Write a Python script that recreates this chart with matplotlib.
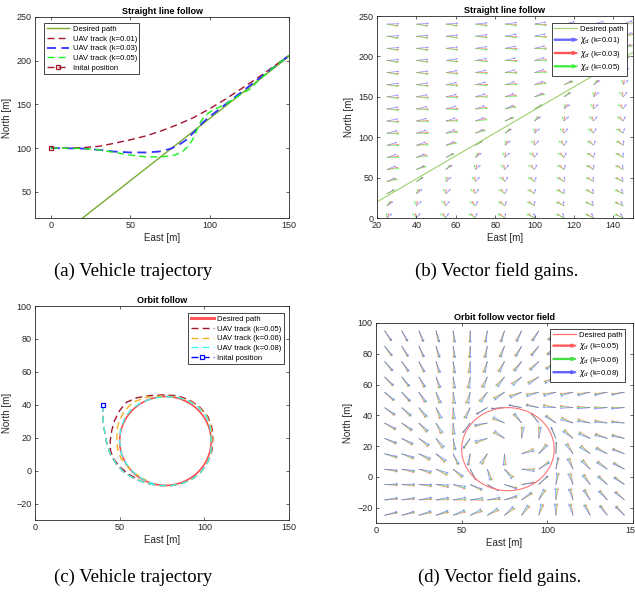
import numpy as np
import matplotlib.pyplot as plt
from matplotlib.patches import Circle, FancyArrow
from matplotlib.lines import Line2D
from matplotlib.legend_handler import HandlerPatch

plt.rcParams['font.family'] = ['Liberation Sans', 'DejaVu Sans']
plt.rcParams['mathtext.fontset'] = 'dejavusans'

# ---------------- (a) straight line follow: tracks ----------------
line_e = [20, 150]
line_n = [20, 205]

a_e_k01 = [0, 10, 20, 30, 40, 50, 60, 70, 80, 90, 100, 110, 120, 130, 140, 150]
a_n_k01 = [100, 100, 100.5, 102, 105.5, 109.5, 114, 120, 127, 135, 145, 156, 168, 180, 193, 206]

a_e_k03 = [0, 20, 30, 40, 50, 60, 68, 75, 80, 85, 90, 95, 100, 110, 120, 130, 140, 150]
a_n_k03 = [100, 99.5, 98, 96, 95, 95, 96, 99, 103, 109, 118, 128, 136, 150, 164, 178, 192, 206]

a_e_k05 = [0, 20, 30, 40, 50, 60, 70, 78, 83, 87, 90, 92, 94, 97, 100, 105, 110, 115, 120, 125, 130, 135, 140, 145, 150]
a_n_k05 = [100, 99.5, 98, 95, 92, 90, 90, 92, 96, 103, 112, 121, 129, 137, 141, 146, 150, 156, 162, 167, 176, 184, 192, 199, 206]

start_a = (0, 100)

# ---------------- (b) straight line vector field ----------------
b_east = [25, 40, 55, 70, 85, 100, 115, 130, 145]
b_north = [0, 15, 30, 45, 60, 75, 90, 105, 120, 135, 150, 165, 180, 195, 210, 225, 240]
b_gains = [0.01, 0.03, 0.05]
b_colors = ['#6a6aff', '#ff5555', '#44ee44']

# ---------------- (c) orbit follow: tracks ----------------
orbit_c = (77, 18)
orbit_r = 27

trunk_e = [40, 40, 40.5, 42, 44.5, 48, 53, 59, 66, 73, 80, 87, 93, 98, 102]
trunk_n = [40, 34, 28, 18, 10, 4, -1.5, -5, -7.8, -9, -9.2, -7.8, -5, -1, 5]

c_e_k05 = trunk_e + [104.5, 105, 104.5, 102, 97, 91, 84, 76, 68, 60, 54, 50, 47, 45.3, 44.4, 44.6, 46.5, 50, 55, 61]
c_n_k05 = trunk_n + [12, 19, 26, 33, 39, 43, 45.5, 46, 45.6, 44.2, 41.5, 36.5, 30.5, 24.3, 18, 12, 7, 2.5, -2, -5.5]

c_e_k06 = trunk_e + [104.2, 104.6, 104, 101.5, 97, 91, 84, 76, 66, 58, 53, 50.3, 48.7, 48.3, 48.8, 51, 55, 60, 66]
c_n_k06 = trunk_n + [12, 19, 26, 33, 38.5, 42.5, 44.8, 45.3, 44.6, 41.6, 36.5, 31.4, 26.4, 20.3, 13, 7, 2, -2.5, -6]

c_e_k08 = trunk_e + [104, 104, 103.5, 101, 96.5, 90.5, 84, 77, 70, 63, 57, 53, 50.5, 50, 51, 54, 58, 64, 70]
c_n_k08 = trunk_n + [12, 19, 26, 33, 38.5, 42.5, 44.6, 45, 44, 41.5, 37.5, 32, 25, 18, 10, 4, -1, -5.5, -8]

start_c = (40, 40)

# ---------------- (d) orbit vector field ----------------
d_east = [5, 15, 25, 35, 45, 55, 65, 75, 85, 95, 105, 115, 125, 135, 145]
d_north = [-25, -15, -5, 5, 15, 25, 35, 45, 55, 65, 75, 85, 95]
d_gains = [0.05, 0.06, 0.08]
d_colors = ['#ff5c5c', '#44dd44', '#6262ff']

dark_red = (0.64, 0.08, 0.18)
olive = (0.47, 0.67, 0.19)


def line_field(E, N, k):
    # straight-line guidance law, chi_inf = 90 deg
    chi_q = np.arctan2(line_e[1] - line_e[0], line_n[1] - line_n[0])
    e_py = -np.sin(chi_q) * (N - line_n[0]) + np.cos(chi_q) * (E - line_e[0])
    chi = chi_q - np.arctan(k * e_py)
    return np.sin(chi), np.cos(chi)


def orbit_field(E, N, k):
    # counter-clockwise orbit guidance law
    de, dn = E - orbit_c[0], N - orbit_c[1]
    d = np.hypot(de, dn)
    phi = np.arctan2(de, dn)
    chi = phi - (np.pi / 2 + np.arctan(k * (d - orbit_r)))
    return np.sin(chi), np.cos(chi)


def arrow_patch(legend, orig_handle, xdescent, ydescent, width, height, fontsize):
    return FancyArrow(-xdescent, height / 2 - ydescent, width, 0, width=0.7,
                      length_includes_head=True, head_width=height * 0.55,
                      head_length=width * 0.22)


arrow_map = {FancyArrow: HandlerPatch(patch_func=arrow_patch)}


def style(ax):
    ax.tick_params(direction='in', length=2.5, width=0.5, top=True, right=True,
                   labelsize=6.5, colors='0.15', pad=2.5)
    for s in ax.spines.values():
        s.set_linewidth(0.6)
        s.set_color('0.15')


def legend(ax, handles, labels, loc, anchor, hmap=None):
    lg = ax.legend(handles, labels, loc=loc, bbox_to_anchor=anchor, fontsize=5.5,
                   frameon=True, fancybox=False, framealpha=1, edgecolor='0.15',
                   borderpad=0.35, labelspacing=0.3, handlelength=3.0,
                   handletextpad=0.4, borderaxespad=0, handler_map=hmap)
    lg.get_frame().set_linewidth(0.6)
    return lg


W, H = 635, 595
fig = plt.figure(figsize=(6.35, 5.95), dpi=100)


def box(l, t, r, b):
    return [l / W, 1 - b / H, (r - l) / W, (b - t) / H]


ax_a = fig.add_axes(box(35, 17, 289, 218))
ax_b = fig.add_axes(box(377, 16, 633, 218))
ax_c = fig.add_axes(box(35, 306, 289, 520))
ax_d = fig.add_axes(box(376, 323, 633, 523))

dash = (5, 3)
qkw = dict(angles='xy', scale_units='xy', width=0.0026, headwidth=3,
           headlength=3.5, headaxislength=3.2, alpha=0.8)

# ---- (a)
h1, = ax_a.plot(line_e, line_n, color=olive, lw=1)
h2, = ax_a.plot(a_e_k01, a_n_k01, color=dark_red, lw=1, dashes=dash)
h3, = ax_a.plot(a_e_k03, a_n_k03, color=(0.2, 0.2, 1), lw=1.3, dashes=dash)
h4, = ax_a.plot(a_e_k05, a_n_k05, color=(0.1, 0.95, 0.1), lw=1, dashes=dash)
h5, = ax_a.plot([start_a[0]], [start_a[1]], color=dark_red, lw=1, dashes=dash,
                marker='s', ms=3.5, mfc='none', mew=0.9)
ax_a.set_xlim(-10, 150)
ax_a.set_ylim(20, 250)
ax_a.set_xticks([0, 50, 100, 150])
ax_a.set_yticks([50, 100, 150, 200, 250])
ax_a.set_title('Straight line follow', fontsize=6.5, fontweight='bold', pad=2.5)
ax_a.set_xlabel('East [m]', fontsize=7, color='0.15', labelpad=2)
ax_a.set_ylabel('North [m]', fontsize=7, color='0.15', labelpad=3)
legend(ax_a, [h1, h2, h3, h4, h5],
       ['Desired path', 'UAV track (k=0.01)', 'UAV track (k=0.03)',
        'UAV track (k=0.05)', 'Inital position'], 'upper left', (0.035, 0.97))
style(ax_a)

# ---- (b)
EB, NB = np.meshgrid(b_east, b_north)
hb = [ax_b.plot(line_e, line_n, color=(0.62, 0.82, 0.42), lw=0.8)[0]]
for k, c in zip(b_gains, b_colors):
    U, V = line_field(EB, NB, k)
    ax_b.quiver(EB, NB, U, V, scale=1 / 6.5, color=c, **qkw)
    hb.append(FancyArrow(0, 0, 1, 0, color=c))
ax_b.set_xlim(20, 150)
ax_b.set_ylim(0, 250)
ax_b.set_xticks([20, 40, 60, 80, 100, 120, 140])
ax_b.set_yticks([0, 50, 100, 150, 200, 250])
ax_b.set_title('Straight line follow', fontsize=6.5, fontweight='bold', pad=2.5)
ax_b.set_xlabel('East [m]', fontsize=7, color='0.15', labelpad=2)
ax_b.set_ylabel('North [m]', fontsize=7, color='0.15', labelpad=3)
legend(ax_b, hb, ['Desired path'] + [r'$\chi_d$ (k=%g)' % k for k in b_gains],
       'upper right', (0.975, 0.965), arrow_map)
style(ax_b)

# ---- (c)
ax_c.add_patch(Circle(orbit_c, orbit_r, fill=False, ec=(1, 0.3, 0.3), lw=1.2))
hc = [Line2D([], [], color=(1, 0.35, 0.35), lw=2.2)]
hc.append(ax_c.plot(c_e_k05, c_n_k05, color=dark_red, lw=1, dashes=dash)[0])
hc.append(ax_c.plot(c_e_k06, c_n_k06, color=(0.95, 0.7, 0.15), lw=1, dashes=dash)[0])
hc.append(ax_c.plot(c_e_k08, c_n_k08, color=(0.25, 0.95, 0.95), lw=1, dashes=dash)[0])
hc.append(ax_c.plot([start_c[0]], [start_c[1]], color=(0, 0, 1), lw=1, dashes=dash,
                    marker='s', ms=3.5, mfc='white', mew=0.9)[0])
ax_c.set_xlim(0, 150)
ax_c.set_ylim(-30, 100)
ax_c.set_xticks([0, 50, 100, 150])
ax_c.set_yticks([-20, 0, 20, 40, 60, 80, 100])
ax_c.set_title('Orbit follow', fontsize=6.5, fontweight='bold', pad=2.5)
ax_c.set_xlabel('East [m]', fontsize=7, color='0.15', labelpad=2)
ax_c.set_ylabel('North [m]', fontsize=7, color='0.15', labelpad=3)
legend(ax_c, hc, ['Desired path', 'UAV track (k=0.05)', 'UAV track (k=0.06)',
                  'UAV track (k=0.08)', 'Inital position'], 'upper right', (0.98, 0.967))
style(ax_c)

# ---- (d)
ED, ND = np.meshgrid(d_east, d_north)
ax_d.add_patch(Circle(orbit_c, orbit_r, fill=False, ec=(1, 0.45, 0.45), lw=0.8, zorder=3))
hd = [Line2D([], [], color=(1, 0.45, 0.45), lw=0.9)]
for k, c in zip(d_gains, d_colors):
    U, V = orbit_field(ED, ND, k)
    ax_d.quiver(ED, ND, U, V, scale=1 / 8.0, color=c, **qkw)
    hd.append(FancyArrow(0, 0, 1, 0, color=c))
ax_d.set_xlim(0, 150)
ax_d.set_ylim(-30, 100)
ax_d.set_xticks([0, 50, 100, 150])
ax_d.set_yticks([-20, 0, 20, 40, 60, 80, 100])
ax_d.set_title('Orbit follow vector field', fontsize=6.5, fontweight='bold', pad=2.5)
ax_d.set_xlabel('East [m]', fontsize=7, color='0.15', labelpad=2)
ax_d.set_ylabel('North [m]', fontsize=7, color='0.15', labelpad=3)
legend(ax_d, hd, ['Desired path'] + [r'$\chi_d$ (k=%g)' % k for k in d_gains],
       'upper right', (0.97, 0.97), arrow_map)
style(ax_d)

# captions
cap = dict(fontsize=13.5, family='Liberation Serif', ha='center', va='center')
fig.text(133 / W, 1 - 271 / H, '(a) Vehicle trajectory', **cap)
fig.text(497 / W, 1 - 271 / H, '(b) Vector field gains.', **cap)
fig.text(133 / W, 1 - 577 / H, '(c) Vehicle trajectory', **cap)
fig.text(500 / W, 1 - 577 / H, '(d) Vector field gains.', **cap)

fig.savefig('out.png', dpi=100)
